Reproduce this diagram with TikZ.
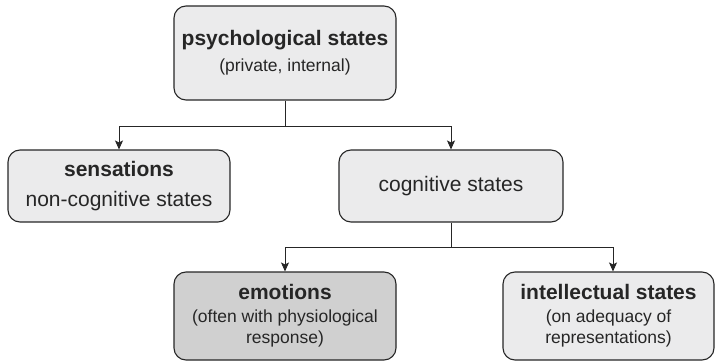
\documentclass[tikz,border=0pt]{standalone}
\usepackage{fontspec}
\setmainfont{Liberation Sans}
\usetikzlibrary{arrows.meta}
\definecolor{boxgray}{HTML}{EBEBEC}
\definecolor{emogray}{HTML}{D0D0D0}
\definecolor{inkgray}{HTML}{262626}
\newcommand{\subtext}{\fontsize{17.5}{21}\selectfont}

\begin{document}
\begin{tikzpicture}[x=1pt,y=-1pt,
  box/.style={draw=inkgray,fill=boxgray,line width=1.1pt,rounded corners=12pt,align=center,
    minimum width=222pt,inner sep=0pt,text=inkgray,font=\fontsize{21}{23}\selectfont},
  link/.style={draw=inkgray,line width=0.9pt},
  arr/.style={link,-{Stealth[length=9pt,width=8pt,inset=2pt]}}]
  \useasboundingbox (0,0) rectangle (715,361);
  % boxes
  \node[box,minimum height=94pt] (psych) at (285,53) {{\bfseries psychological states}\\[3pt]\subtext (private, internal)};
  \node[box,minimum height=72pt] (sens) at (119,186) {{\bfseries sensations}\\[7pt]non-cognitive states};
  \node[box,minimum height=72pt,minimum width=224pt] (cog) at (451,186) {cognitive states};
  \node[box,minimum height=88pt,fill=emogray] (emo) at (285,316) {{\bfseries emotions}\\[0pt]\subtext (often with physiological\\[-2pt]\subtext response)};
  \node[box,minimum height=88pt,minimum width=211pt] (intel) at (608.5,316) {{\bfseries intellectual states}\\[0pt]\subtext (on adequacy of\\[-2pt]\subtext representations)};
  % connectors
  \draw[link] (psych.south) -- ++(0,26) coordinate (fork1);
  \draw[arr] (fork1) -| (sens.north);
  \draw[arr] (fork1) -| (cog.north);
  \draw[link] (cog.south) -- ++(0,25) coordinate (fork2);
  \draw[arr] (fork2) -| (emo.north);
  \draw[arr] (fork2) -| ([xshift=4.5pt]intel.north);
\end{tikzpicture}
\end{document}
